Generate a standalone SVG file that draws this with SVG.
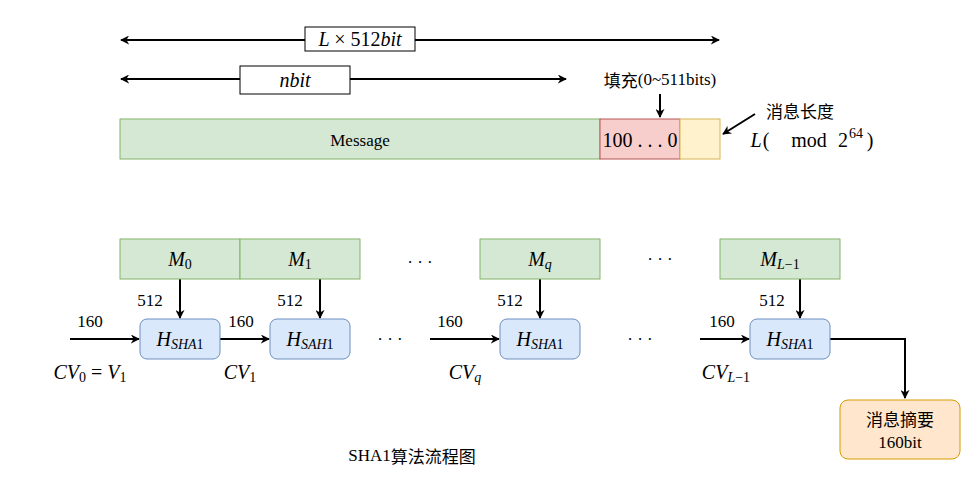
<svg xmlns="http://www.w3.org/2000/svg" width="972" height="480" viewBox="0 0 972 480">
<defs>
<marker id="ah" viewBox="0 0 10 10" refX="9" refY="5" markerWidth="9" markerHeight="9" markerUnits="userSpaceOnUse" orient="auto-start-reverse">
<path d="M0,0 L10,5 L0,10 L3,5 Z" fill="#000"/>
</marker>
</defs>
<style>
.ln{stroke:#000;stroke-width:2;fill:none}
.t{font-family:"Liberation Serif","Noto Sans CJK SC",serif;font-size:17px;fill:#000;text-anchor:middle;dominant-baseline:central}
.m{font-family:"Liberation Serif",serif;font-style:italic;font-size:20px;fill:#000;text-anchor:middle;dominant-baseline:central}
.n{font-style:normal}
.s{font-size:14px}
.cjk{font-family:"Noto Sans CJK SC",sans-serif;font-size:17px;fill:#000;text-anchor:middle;dominant-baseline:central}
.g{fill:#d5e8d4;stroke:#82b366}
.b{fill:#dae8fc;stroke:#6c8ebf}
</style>
<g id="connectors">
<line class="ln" x1="121" y1="40" x2="719" y2="40" marker-start="url(#ah)" marker-end="url(#ah)"/>
<line class="ln" x1="121" y1="79" x2="566" y2="79" marker-start="url(#ah)" marker-end="url(#ah)"/>
<line class="ln" x1="660" y1="94" x2="660" y2="117" marker-end="url(#ah)"/>
<line class="ln" x1="755" y1="114" x2="723" y2="134" marker-end="url(#ah)"/>
<line class="ln" x1="180" y1="279" x2="180" y2="318" marker-end="url(#ah)"/>
<line class="ln" x1="320" y1="279" x2="320" y2="318" marker-end="url(#ah)"/>
<line class="ln" x1="540" y1="279" x2="540" y2="318" marker-end="url(#ah)"/>
<line class="ln" x1="800" y1="279" x2="800" y2="318" marker-end="url(#ah)"/>
<line class="ln" x1="70" y1="339" x2="139" y2="339" marker-end="url(#ah)"/>
<line class="ln" x1="220" y1="339" x2="269" y2="339" marker-end="url(#ah)"/>
<line class="ln" x1="430" y1="339" x2="499" y2="339" marker-end="url(#ah)"/>
<line class="ln" x1="700" y1="339" x2="749" y2="339" marker-end="url(#ah)"/>
<polyline class="ln" points="830,339 905,339 905,398" marker-end="url(#ah)"/>
</g>
<g id="len-box">
<rect x="305" y="27" width="110" height="24" fill="#fff" stroke="#000"/>
<text class="m" x="360" y="39">L <tspan class="n">× 512</tspan>bit</text>
</g>
<g id="nbit-box">
<rect x="240" y="66" width="110" height="28" fill="#fff" stroke="#000"/>
<text class="m" x="295" y="80">nbit</text>
</g>
<g id="pad-label"><text class="cjk" x="660" y="79">填充<tspan font-family="Liberation Serif">(0~511bits)</tspan></text></g>
<g id="message">
<rect class="g" x="120" y="119" width="480" height="40"/>
<text class="t" x="360" y="140">Message</text>
</g>
<g id="padding">
<rect x="600" y="119" width="80" height="40" fill="#f8cecc" stroke="#b85450"/>
<text class="t" x="640" y="140" style="font-size:20px">100 . . . 0</text>
</g>
<g id="length">
<rect x="680" y="119" width="40" height="40" fill="#fff2cc" stroke="#d6b656"/>
</g>
<g id="len-label">
<text class="cjk" x="800" y="110">消息长度</text>
<text class="m" x="810" y="140"><tspan x="756">L</tspan><tspan class="n" x="766">(</tspan><tspan class="n" x="809">mod</tspan><tspan class="n" x="843">2</tspan><tspan class="n s" x="856" dy="-7">64</tspan><tspan class="n" x="870" dy="7">)</tspan></text>
</g>
<g id="M0"><rect class="g" x="120" y="239" width="120" height="40"/><text class="m" x="180" y="259">M<tspan class="n s" dy="5">0</tspan></text></g>
<g id="M1"><rect class="g" x="240" y="239" width="120" height="40"/><text class="m" x="300" y="259">M<tspan class="n s" dy="5">1</tspan></text></g>
<g id="Mq"><rect class="g" x="480" y="239" width="120" height="40"/><text class="m" x="540" y="259">M<tspan class="s" dy="5">q</tspan></text></g>
<g id="ML"><rect class="g" x="720" y="239" width="120" height="40"/><text class="m" x="780" y="259">M<tspan class="s" dy="5">L<tspan class="n">−1</tspan></tspan></text></g>
<g id="dots"><text class="t" x="420" y="262">· · ·</text><text class="t" x="660" y="259">· · ·</text><text class="t" x="390" y="339">· · ·</text><text class="t" x="640" y="339">· · ·</text></g>
<g id="H1"><rect class="b" x="140" y="319" width="80" height="40" rx="7"/><text class="m" x="180" y="339">H<tspan class="s" dy="5">SHA<tspan class="n">1</tspan></tspan></text></g>
<g id="H2"><rect class="b" x="270" y="319" width="80" height="40" rx="7"/><text class="m" x="310" y="339">H<tspan class="s" dy="5">SAH<tspan class="n">1</tspan></tspan></text></g>
<g id="H3"><rect class="b" x="500" y="319" width="80" height="40" rx="7"/><text class="m" x="540" y="339">H<tspan class="s" dy="5">SHA<tspan class="n">1</tspan></tspan></text></g>
<g id="H4"><rect class="b" x="750" y="319" width="80" height="40" rx="7"/><text class="m" x="790" y="339">H<tspan class="s" dy="5">SHA<tspan class="n">1</tspan></tspan></text></g>
<g id="labels">
<text class="t" x="150" y="300">512</text><text class="t" x="290" y="300">512</text><text class="t" x="510" y="300">512</text><text class="t" x="772" y="300">512</text>
<text class="t" x="90" y="321">160</text><text class="t" x="241" y="321">160</text><text class="t" x="450" y="321">160</text><text class="t" x="722" y="321">160</text>
<text class="m" x="90" y="372">CV<tspan class="n s" dy="5">0</tspan><tspan class="n" dy="-5"> = </tspan>V<tspan class="n s" dy="5">1</tspan></text>
<text class="m" x="240" y="372">CV<tspan class="n s" dy="5">1</tspan></text>
<text class="m" x="465" y="372">CV<tspan class="s" dy="5">q</tspan></text>
<text class="m" x="726" y="372">CV<tspan class="s" dy="5">L<tspan class="n">−1</tspan></tspan></text>
</g>
<g id="digest">
<rect x="840" y="400" width="120" height="59" rx="8" fill="#ffe6cc" stroke="#d79b00"/>
<text class="cjk" x="900" y="418">消息摘要</text>
<text class="t" x="900" y="442">160bit</text>
</g>
<g id="caption"><text class="t" x="412" y="455">SHA1<tspan font-family="Noto Sans CJK SC">算法流程图</tspan></text></g>
</svg>
